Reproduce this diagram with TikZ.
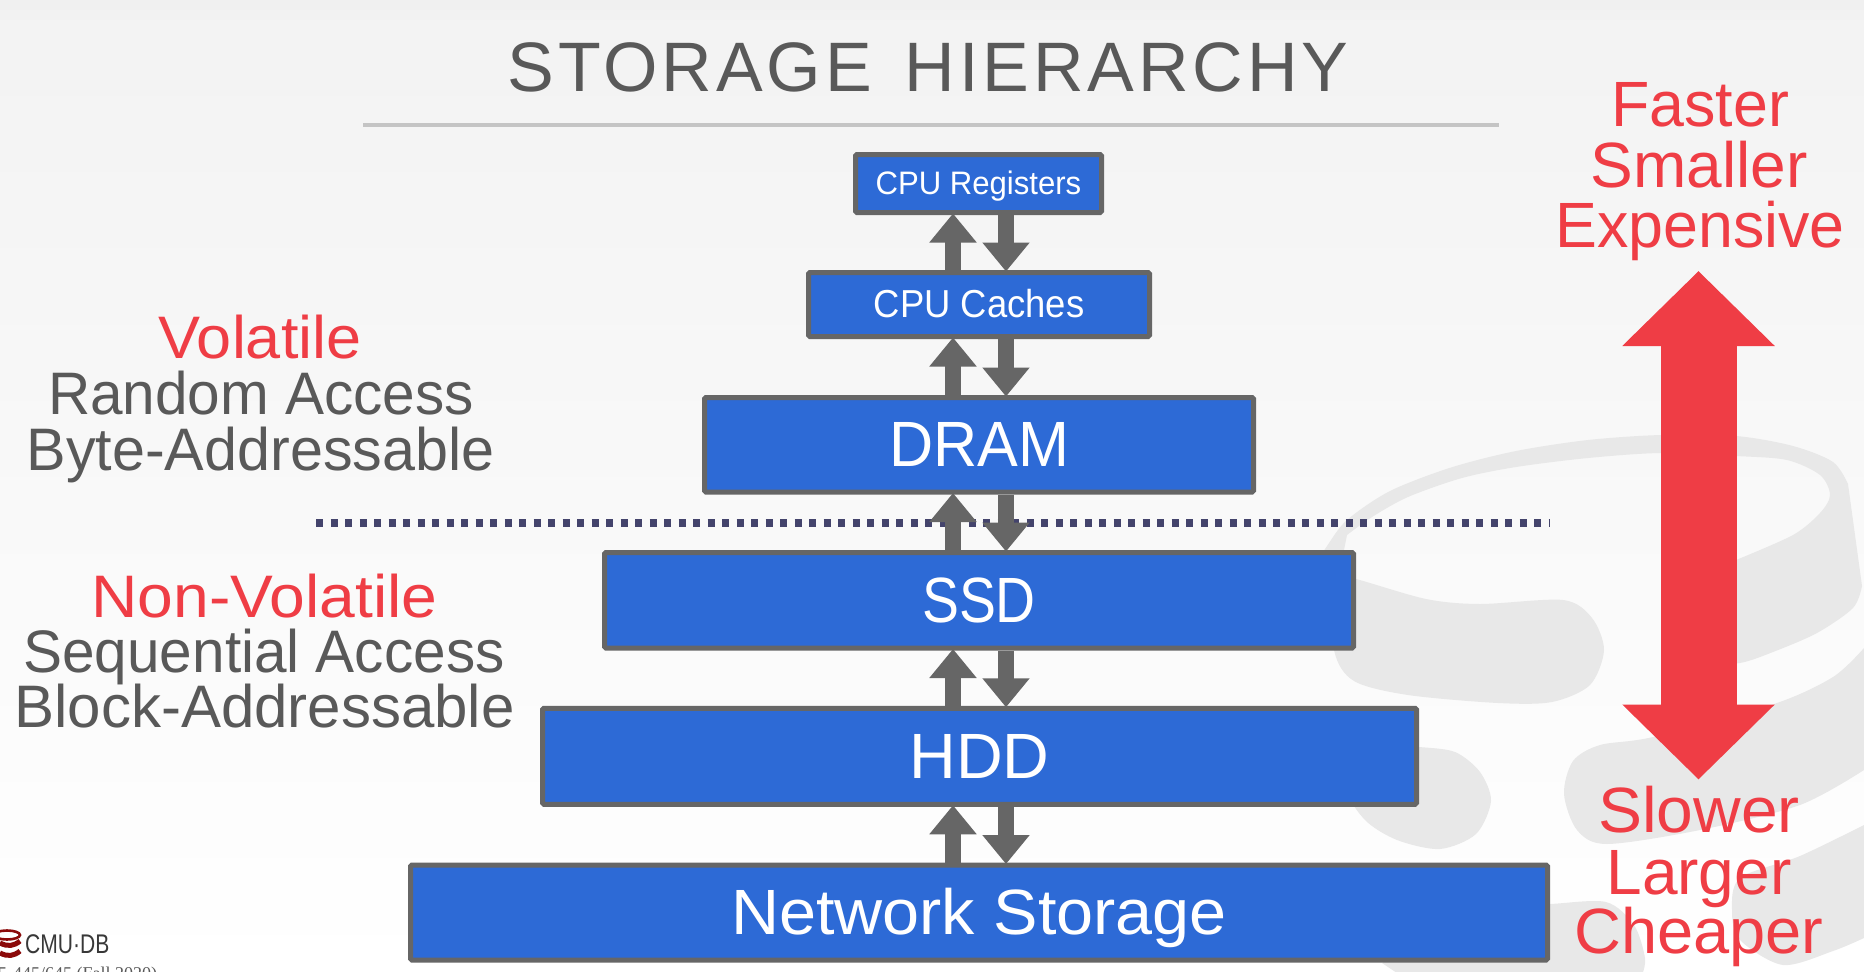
\documentclass[tikz,border=0pt]{standalone}
\usepackage{fontspec}
\usetikzlibrary{arrows.meta}
\setmainfont{Liberation Sans}
\newfontfamily\titlefont[LetterSpace=5.6,WordSpace=1.4]{Liberation Sans}
\newfontfamily\logofont[FakeStretch=.78]{Liberation Sans}
\newfontfamily\courseserif{Liberation Serif}
\newcommand\fsz[1]{\fontsize{#1}{#1}\selectfont}
\newcommand\wdt[1]{\addfontfeature{FakeStretch=#1}}
\newcommand\capbox[1]{\vphantom{H}\smash{#1}}
\definecolor{boxblue}{HTML}{2D6AD6}
\definecolor{boxedge}{HTML}{666666}
\definecolor{hotred}{HTML}{EF3D45}
\definecolor{txtgray}{HTML}{595959}
\definecolor{wmgray}{HTML}{E8E8E8}
\definecolor{dotblue}{HTML}{44446C}
\definecolor{rulegray}{HTML}{C4C4C4}
\definecolor{logored}{HTML}{8B0A0A}
\tikzset{
  tier/.style={draw=boxedge,line width=5pt,fill=boxblue,text=white,inner sep=0pt,rounded corners=1.5pt},
  flow/.style={draw=boxedge,line width=15.5pt,shorten >=-1.5pt,-{Triangle[length=29pt,width=45.5pt,fill=boxedge]}},
  bigarrow/.style={draw=hotred,line width=76pt,{Triangle[length=75pt,width=148pt,fill=hotred]}-{Triangle[length=75pt,width=148pt,fill=hotred]}},
  redline/.style={anchor=base,text=hotred,font=\fsz{60}\wdt{1.05},inner sep=0pt},
  grayline/.style={anchor=base,text=txtgray,font=\fsz{60}\wdt{.975},inner sep=0pt},
  graywide/.style={anchor=base,text=txtgray,font=\fsz{60}\wdt{1.0},inner sep=0pt},
  sideline/.style={anchor=base,text=hotred,font=\fsz{64},inner sep=0pt},
  wm/.style={fill=wmgray,draw=none}
}
\begin{document}
\begin{tikzpicture}[x=1pt,y=-1pt]
\useasboundingbox (0,0) rectangle (1864,972);
\clip (0,0) rectangle (1864,972);
% background
\shade[top color=black!5,bottom color=white] (0,0) rectangle (1864,972);
\fill[black!6] (0,0) rectangle (1864,10);
% watermark
\fill[wm] plot[smooth] coordinates {(1320,558) (1327,546) (1347,520) (1390,491) (1451,467.5) (1516,451) (1588,440) (1661,435) (1736,436) (1793,446) (1833,462) (1848,484)}
  -- (1862,586) -- plot[smooth] coordinates {(1862,586) (1853,608) (1817,633) (1773,652) (1740,663) (1700,665)}
  -- (1700,568) -- plot[smooth] coordinates {(1736,560) (1793,535) (1820,513) (1830,495) (1820,475) (1787,460) (1736,456) (1661,453) (1588,458) (1516,467) (1462,478) (1408,497) (1372,517) (1347,535)}
  -- (1340,570) -- cycle;
\fill[wm] plot[smooth cycle] coordinates {(1330,575) (1356,579) (1426,599) (1480,604) (1563,600) (1592,618) (1604,650) (1590,685) (1552,702) (1498,703) (1408,695) (1354,681) (1334,650)};
\fill[wm] plot[smooth] coordinates {(1864,648) (1833,677) (1774,704) (1653,737) (1600,745) (1573,761) (1564,794) (1577,830) (1607,844) (1700,830) (1800,805) (1864,770)} -- cycle;
\fill[wm] plot[smooth cycle] coordinates {(1380,745) (1419,747) (1455,752) (1480,772) (1491,801) (1476,834) (1440,849) (1397,840) (1365,820) (1350,790)};
\fill[wm] plot[smooth] coordinates {(1500,906) (1550,904) (1606,902) (1634,925) (1645,958) (1642,975)} -- (1400,975) -- (1382,963) -- cycle;
\fill[wm] plot[smooth] coordinates {(1864,825) (1800,856) (1740,878) (1732,911) (1740,940) (1783,965) (1833,951) (1864,938)} -- cycle;
% title
\node[anchor=base,text=txtgray,font=\titlefont\fsz{70},inner sep=0pt] (title) at (928,91) {STORAGE HIERARCHY};
\coordinate (ruleL) at (363,125);
\coordinate (ruleR) at (1499,125);
\draw[rulegray,line width=3.5pt] (ruleL) -- (ruleR);
% separator
\coordinate (sepL) at (316,523);
\coordinate (sepR) at (1548.8,523);
\draw[dotblue,line width=7.5pt,dash pattern=on 7pt off 7.5pt] (sepL) -- (sepR);
% tiers
\node[tier,minimum width=246pt,minimum height=58pt,font=\fsz{32.5}\wdt{.957}] (regs) at (978.5,183.5) {\capbox{CPU Registers}};
\node[tier,minimum width=341pt,minimum height=64pt,font=\fsz{39}\wdt{.934}] (caches) at (979,304.5) {\capbox{CPU Caches}};
\node[tier,minimum width=549pt,minimum height=94.5pt,font=\fsz{64}\wdt{.955}] (dram) at (979,444.75) {\capbox{DRAM}};
\node[tier,minimum width=749pt,minimum height=95.5pt,font=\fsz{64}\wdt{.865}] (ssd) at (979,600.25) {\capbox{SSD}};
\node[tier,minimum width=874pt,minimum height=96pt,font=\fsz{64}\wdt{1.01}] (hdd) at (979.5,756.25) {\capbox{HDD}};
\node[tier,minimum width=1137pt,minimum height=95pt,font=\fsz{64}\wdt{1.04}] (net) at (979,912.5) {\capbox{Network Storage}};
% flows
\foreach \u/\l in {regs/caches,caches/dram,dram/ssd,ssd/hdd,hdd/net}{
  \draw[flow] ([xshift=-26pt]\l.north -| 979,0) -- ([xshift=-26pt]\u.south -| 979,0);
  \draw[flow] ([xshift=27pt]\u.south -| 979,0) -- ([xshift=27pt]\l.north -| 979,0);
}
% left text
\node[redline] (vol) at (260,358) {Volatile};
\node[grayline] (rand) at (261,414) {Random Access};
\node[graywide,font=\fsz{60}\wdt{.988}] (byte) at (260.5,470) {Byte-Addressable};
\node[redline,font=\fsz{60}\wdt{1.07}] (nonvol) at (264.5,617) {Non-Volatile};
\node[grayline] (seq) at (264,672) {Sequential Access};
\node[graywide] (block) at (264.5,727) {Block-Addressable};
% right text and arrow
\node[sideline,font=\fsz{64}\wdt{.98}] (fast) at (1700,126) {Faster};
\node[sideline,font=\fsz{64}\wdt{1.0}] (small) at (1699,187.3) {Smaller};
\node[sideline,font=\fsz{64}\wdt{.98}] (exp) at (1700,247.3) {Expensive};
\coordinate (bigT) at (1698.5,271);
\coordinate (bigB) at (1698.5,779.5);
\draw[bigarrow] (bigT) -- (bigB);
\node[sideline,font=\fsz{64}\wdt{1.03}] (slow) at (1699,832.5) {Slower};
\node[sideline] (large) at (1699,894) {Larger};
\node[sideline,font=\fsz{64}\wdt{1.015}] (cheap) at (1699,953) {Cheaper};
% footer logo
\draw[logored,line width=2.6pt] (7,935) ellipse (13pt and 4.5pt);
\draw[logored,line width=5pt] (0,943) .. controls (8,947) and (14,946) .. (20,941);
\draw[logored,line width=5pt] (0,953) .. controls (8,957) and (14,956) .. (20,951);
\node[anchor=base west,inner sep=0pt,text=black!78,font=\logofont\fsz{27}] (cmu) at (25,953) {CMU·DB};
\node[anchor=base west,inner sep=0pt,text=txtgray,font=\courseserif\fsz{18}] (course) at (-11,979) {15-445/645 (Fall 2020)};
\end{tikzpicture}
\end{document}
